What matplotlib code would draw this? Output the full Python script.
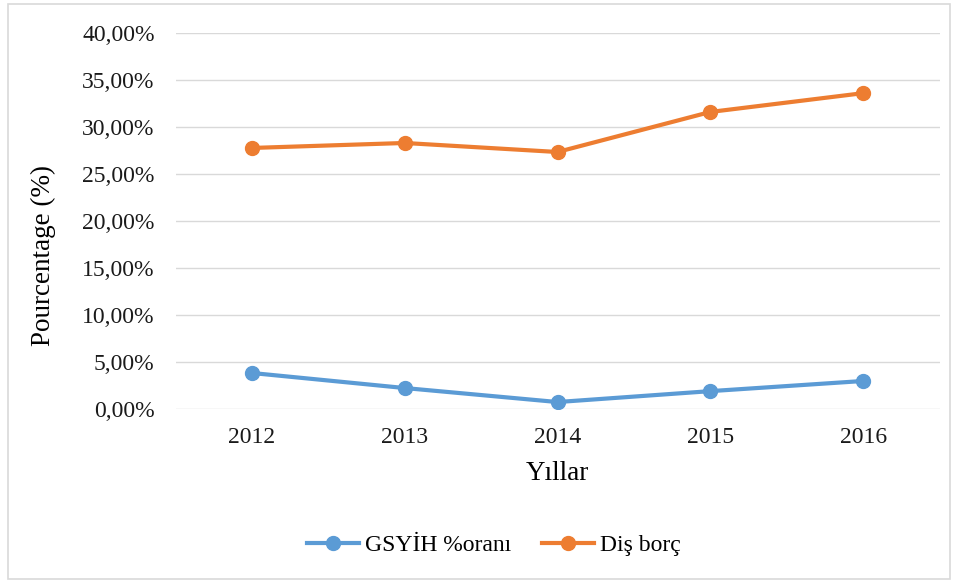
import matplotlib.pyplot as plt
from matplotlib.patches import Rectangle
from matplotlib.ticker import FuncFormatter

years = ['2012', '2013', '2014', '2015', '2016']
gsyih = [3.83, 2.23, 0.74, 1.90, 2.98]
dis_borc = [27.77, 28.30, 27.34, 31.60, 33.60]

plt.rcParams['font.family'] = ['Liberation Serif', 'DejaVu Serif']

W, H = 956, 582
fig = plt.figure(figsize=(W / 100, H / 100), dpi=100)
fig.patches.append(Rectangle((8 / W, 3 / H), 942 / W, 575 / H, transform=fig.transFigure,
                             fill=False, edgecolor='#d9d9d9', linewidth=1.2))

ax = fig.add_axes([175.5 / W, 1 - 409 / H, 764 / W, 376 / H])
x = range(len(years))
ax.plot(x, gsyih, color='#5b9bd5', linewidth=3, marker='o', markersize=10, label='GSYİH %oranı')
ax.plot(x, dis_borc, color='#ed7d31', linewidth=3, marker='o', markersize=10, label='Diş borç')

ax.set_xlim(-0.5, len(years) - 0.5)
ax.set_ylim(0, 40)
ax.set_yticks(range(0, 41, 5))
ax.yaxis.set_major_formatter(FuncFormatter(lambda v, p: f'{v:.2f}%'.replace('.', ',')))
ax.set_xticks(list(x))
ax.set_xticklabels(years)
ax.grid(axis='y', color='#d9d9d9', linewidth=1)
ax.set_axisbelow(True)
for s in ax.spines.values():
    s.set_visible(False)
ax.tick_params(length=0, labelsize=17, colors='#1a1a1a')
ax.tick_params(axis='y', pad=15)
ax.tick_params(axis='x', pad=13)

fig.text(557 / W, 1 - 474 / H, 'Yıllar', fontsize=19.5, ha='center', va='center')
fig.text(43 / W, 1 - 255 / H, 'Pourcentage (%)', rotation=90, fontsize=19.5,
         ha='center', va='center')

ax.legend(loc='center', bbox_to_anchor=(494 / W, 1 - 545 / H), bbox_transform=fig.transFigure,
          ncol=2, frameon=False, fontsize=17, handlelength=2.2, columnspacing=1.3,
          handletextpad=0.25)

fig.savefig('out.png', dpi=100)
